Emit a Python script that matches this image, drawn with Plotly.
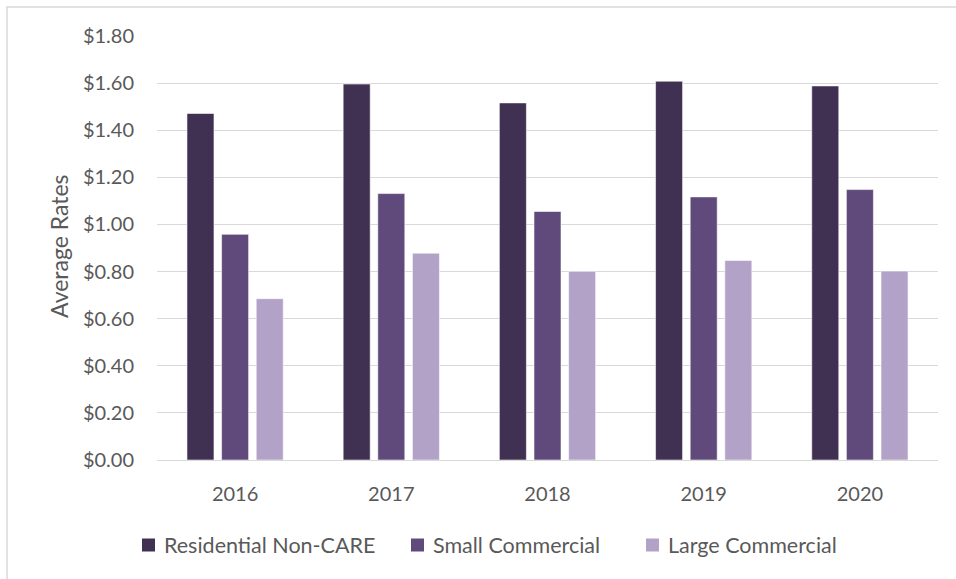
import plotly.graph_objects as go

# Average rates by customer class, 2016-2020
years = ["2016", "2017", "2018", "2019", "2020"]
residential_non_care = [1.471, 1.596, 1.516, 1.608, 1.588]
small_commercial = [0.958, 1.131, 1.055, 1.117, 1.148]
large_commercial = [0.685, 0.878, 0.801, 0.847, 0.802]

series_names = ["Residential Non-CARE", "Small Commercial", "Large Commercial"]
series_colors = ["#403152", "#604A7B", "#B3A2C7"]
y_ticks = [0, 0.2, 0.4, 0.6, 0.8, 1.0, 1.2, 1.4, 1.6, 1.8]

W, H = 956, 579
ML, MR, MT, MB = 157, 18, 36, 119
FONT = "Lato, 'Open Sans', sans-serif"
TEXT = "#595959"

fig = go.Figure()
for name, vals, col in zip(series_names,
                           [residential_non_care, small_commercial, large_commercial],
                           series_colors):
    fig.add_trace(go.Bar(
        x=years, y=vals, name=name, showlegend=False,
        marker=dict(color=col, line=dict(color="rgba(255,255,255,0.55)", width=1)),
    ))

pw = W - ML - MR
ph = H - MT - MB
def px_x(px):
    return (px - ML) / pw
def px_y(py):
    return 1 - (py - MT) / ph

# chart frame (light gray border around the whole chart)
fig.add_shape(type="rect", xref="paper", yref="paper",
              x0=px_x(7), x1=px_x(962), y0=px_y(585), y1=px_y(7),
              line=dict(color="#D9D9D9", width=1.5), fillcolor="rgba(0,0,0,0)",
              layer="below")

# legend row: swatch + label per series
legend_swatch_x = [142, 411, 646]
legend_y = 545
for name, col, sx in zip(series_names, series_colors, legend_swatch_x):
    fig.add_shape(type="rect", xref="paper", yref="paper",
                  x0=px_x(sx), x1=px_x(sx + 13),
                  y0=px_y(legend_y + 6.5), y1=px_y(legend_y - 6.5),
                  line=dict(width=0), fillcolor=col)
    fig.add_annotation(xref="paper", yref="paper", x=px_x(sx + 20), y=px_y(legend_y),
                       xanchor="left", yanchor="middle", showarrow=False,
                       text=name, font=dict(size=21.5, color=TEXT, family=FONT))

# y-axis title
fig.add_annotation(xref="paper", yref="paper", x=px_x(59), y=px_y(246),
                   xanchor="center", yanchor="middle", showarrow=False,
                   textangle=-90, text="Average Rates",
                   font=dict(size=23, color=TEXT, family=FONT))

fig.update_layout(
    width=W, height=H,
    margin=dict(l=ML, r=MR, t=MT, b=MB),
    paper_bgcolor="white", plot_bgcolor="white",
    barmode="group", bargap=0.335, bargroupgap=0.22,
    font=dict(family=FONT, size=20, color=TEXT),
    showlegend=False,
    xaxis=dict(showline=False, ticks="", showgrid=False, ticklabelstandoff=20,
               tickfont=dict(size=20, color=TEXT)),
    yaxis=dict(range=[0, 1.8], tickvals=y_ticks, tickformat="$.2f",
               showgrid=True, gridcolor="#D9D9D9", gridwidth=1,
               zeroline=True, zerolinecolor="#D9D9D9", zerolinewidth=1,
               showline=False, ticks="", ticklabelstandoff=22,
               tickfont=dict(size=20, color=TEXT)),
)

fig.write_html("out.html")
